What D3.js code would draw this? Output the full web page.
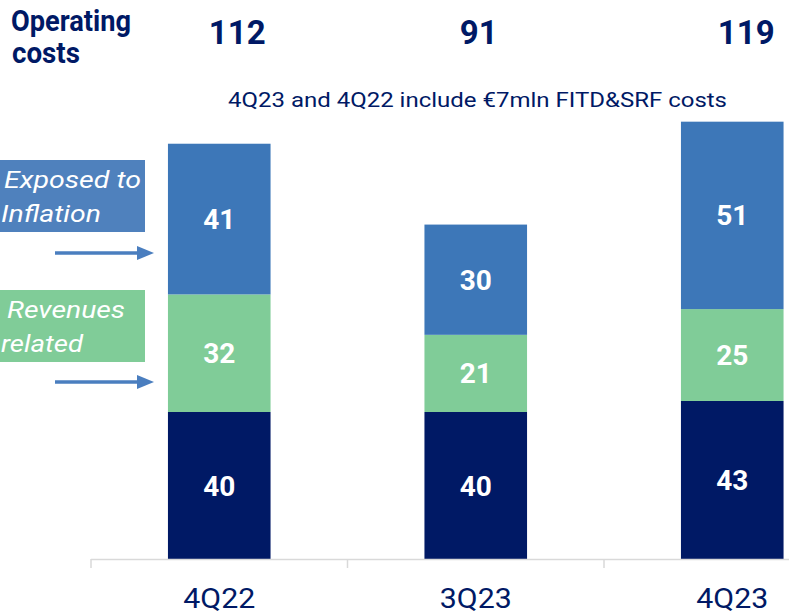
<!DOCTYPE html>
<html>
<head>
<meta charset="utf-8">
<script src="https://cdn.jsdelivr.net/npm/d3@7"></script>
<style>
  body { margin: 0; background: #fff; }
  svg { display: block; font-family: Roboto, "Noto Sans", sans-serif; }
</style>
</head>
<body>
<div id="chart"></div>
<script>
// data
const quarters = ["4Q22", "3Q23", "4Q23"];
const fixedCosts = [40, 40, 43];
const revenueRelated = [32, 21, 25];
const inflationExposed = [41, 30, 51];
const totals = ["112", "91", "119"];
const note = "4Q23 and 4Q22 include €7mln FITD&SRF costs";

const width = 789, height = 616;
const navy = "#001965", green = "#80cc98", blue = "#3d77b8";

const svg = d3.select("#chart").append("svg")
    .attr("width", width)
    .attr("height", height);

const x = d3.scaleBand()
    .domain(quarters)
    .range([91, 860.5])
    .paddingInner(0.6)
    .paddingOuter(0.3);

const y = d3.scaleLinear()
    .domain([0, 120])
    .range([559, 118]);

const rows = quarters.map((q, i) => ({
    q, fixed: fixedCosts[i], revenue: revenueRelated[i], inflation: inflationExposed[i]
}));
const keys = ["fixed", "revenue", "inflation"];
const colors = { fixed: navy, revenue: green, inflation: blue };

const stacked = d3.stack().keys(keys)(rows);

// bars
const layers = svg.selectAll("g.layer")
    .data(stacked)
    .enter()
    .append("g")
    .attr("class", "layer")
    .attr("fill", d => colors[d.key]);

layers.selectAll("rect")
    .data(d => d)
    .enter()
    .append("rect")
    .attr("x", d => x(d.data.q))
    .attr("width", x.bandwidth())
    .attr("y", d => y(d[1]))
    .attr("height", d => y(d[0]) - y(d[1]));

layers.selectAll("text")
    .data(d => d)
    .enter()
    .append("text")
    .attr("x", d => x(d.data.q) + x.bandwidth() / 2)
    .attr("y", d => (y(d[0]) + y(d[1])) / 2 + 10)
    .attr("text-anchor", "middle")
    .attr("font-size", "28px")
    .attr("font-weight", "bold")
    .attr("fill", "#fff")
    .text(d => d[1] - d[0]);

// axis
const step = x.step();
const axisG = svg.append("g").attr("stroke", "#d9d9d9").attr("stroke-width", 1.5);
axisG.append("line")
    .attr("x1", 91).attr("x2", width)
    .attr("y1", 559.5).attr("y2", 559.5);
axisG.selectAll("line.tick")
    .data(quarters)
    .enter()
    .append("line")
    .attr("class", "tick")
    .attr("x1", d => x(d) + x.bandwidth() / 2 - step / 2)
    .attr("x2", d => x(d) + x.bandwidth() / 2 - step / 2)
    .attr("y1", 559).attr("y2", 568);

svg.selectAll("text.cat")
    .data(quarters)
    .enter()
    .append("text")
    .attr("class", "cat")
    .attr("x", d => x(d) + x.bandwidth() / 2)
    .attr("y", 608)
    .attr("text-anchor", "middle")
    .attr("font-size", "28px")
    .attr("textLength", 72)
    .attr("lengthAdjust", "spacingAndGlyphs")
    .attr("fill", navy)
    .text(d => d);

// totals row
const totalNudge = [18, 3, 14];
svg.selectAll("text.total")
    .data(totals)
    .enter()
    .append("text")
    .attr("class", "total")
    .attr("x", (d, i) => x(quarters[i]) + x.bandwidth() / 2 + totalNudge[i])
    .attr("y", 44)
    .attr("text-anchor", "middle")
    .attr("font-size", "33px")
    .attr("font-weight", "bold")
    .attr("fill", navy)
    .text(d => d);

svg.append("text")
    .attr("x", 11).attr("y", 31)
    .attr("font-size", "29px")
    .attr("font-weight", "bold")
    .attr("textLength", 120)
    .attr("lengthAdjust", "spacingAndGlyphs")
    .attr("fill", navy)
    .text("Operating");
svg.append("text")
    .attr("x", 12).attr("y", 63)
    .attr("font-size", "29px")
    .attr("font-weight", "bold")
    .attr("textLength", 68)
    .attr("lengthAdjust", "spacingAndGlyphs")
    .attr("fill", navy)
    .text("costs");

svg.append("text")
    .attr("x", 228)
    .attr("y", 107)
    .attr("font-size", "21px")
    .attr("textLength", 499)
    .attr("lengthAdjust", "spacingAndGlyphs")
    .attr("fill", navy)
    .text(note);

// side labels
const sideLabels = [
    { lines: ["Exposed to", "Inflation"], fill: "#4f81bd", top: 160, dx: [4, 1], len: [137, 100], arrowY: 253 },
    { lines: ["Revenues", "related"], fill: green, top: 290, dx: [7, 1], len: [118, 82], arrowY: 382 }
];

sideLabels.forEach(s => {
    svg.append("rect")
        .attr("x", 0).attr("y", s.top)
        .attr("width", 145).attr("height", 72)
        .attr("fill", s.fill);
    s.lines.forEach((t, i) => {
        svg.append("text")
            .attr("x", s.dx[i])
            .attr("y", s.top + 28 + i * 34)
            .attr("font-size", "24px")
            .attr("font-style", "italic")
            .attr("textLength", s.len[i])
            .attr("lengthAdjust", "spacingAndGlyphs")
            .attr("fill", "#fff")
            .text(t);
    });
    svg.append("line")
        .attr("x1", 55).attr("x2", 141)
        .attr("y1", s.arrowY).attr("y2", s.arrowY)
        .attr("stroke", "#4a7ebf")
        .attr("stroke-width", 3.5);
    svg.append("path")
        .attr("d", `M137,${s.arrowY - 7}L154,${s.arrowY}L137,${s.arrowY + 7}Z`)
        .attr("fill", "#4a7ebf");
});
</script>
</body>
</html>
